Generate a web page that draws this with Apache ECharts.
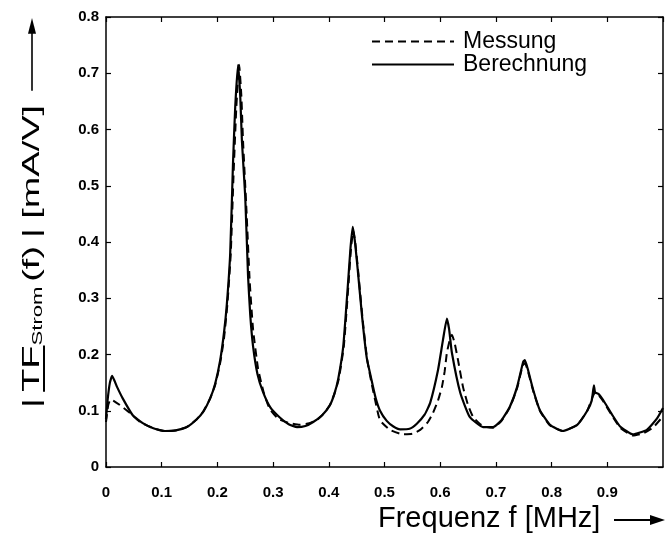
<!DOCTYPE html>
<html><head><meta charset="utf-8">
<script src="https://cdn.jsdelivr.net/npm/echarts@6/dist/echarts.min.js"></script>
<style>html,body{margin:0;padding:0;background:#fff}#c{width:665px;height:535px}</style>
</head><body><div id="c"></div>
<script>
// Data (frequency in MHz, |TF| in mA/V)
const xTicks = ['0','0.1','0.2','0.3','0.4','0.5','0.6','0.7','0.8','0.9'];
const yTicks = ['0','0.1','0.2','0.3','0.4','0.5','0.6','0.7','0.8'];
const seriesNames = ['Messung', 'Berechnung'];
const berechnung = [
 [0,0.085],[0.003,0.12],[0.007,0.15],[0.011,0.162],[0.02,0.142],[0.03,0.122],[0.048,0.092],[0.066,0.078],[0.085,0.069],[0.106,0.064],[0.125,0.065],[0.145,0.071],[0.163,0.085],[0.175,0.099],[0.187,0.122],[0.196,0.148],[0.205,0.19],[0.212,0.24],[0.217,0.29],[0.223,0.38],[0.228,0.54],[0.232,0.64],[0.237,0.715],[0.241,0.66],[0.244,0.58],[0.25,0.48],[0.255,0.34],[0.259,0.27],[0.264,0.215],[0.272,0.165],[0.282,0.133],[0.295,0.106],[0.312,0.088],[0.328,0.076],[0.343,0.071],[0.358,0.073],[0.372,0.08],[0.388,0.092],[0.402,0.11],[0.41,0.13],[0.417,0.157],[0.426,0.215],[0.434,0.32],[0.439,0.39],[0.443,0.427],[0.447,0.4],[0.452,0.35],[0.46,0.265],[0.468,0.195],[0.476,0.158],[0.484,0.123],[0.492,0.1],[0.504,0.082],[0.516,0.072],[0.528,0.067],[0.545,0.068],[0.558,0.077],[0.572,0.093],[0.582,0.114],[0.596,0.172],[0.605,0.226],[0.612,0.264],[0.616,0.245],[0.621,0.203],[0.636,0.132],[0.653,0.089],[0.677,0.071],[0.695,0.071],[0.71,0.083],[0.725,0.107],[0.738,0.142],[0.749,0.187],[0.752,0.19],[0.757,0.175],[0.767,0.137],[0.779,0.101],[0.797,0.075],[0.82,0.064],[0.846,0.075],[0.864,0.1],[0.872,0.118],[0.876,0.145],[0.878,0.133],[0.884,0.13],[0.892,0.12],[0.908,0.094],[0.923,0.072],[0.946,0.058],[0.971,0.066],[0.989,0.086],[1.0,0.105]
];
const messung = [
 [0,0.08],[0.004,0.11],[0.008,0.12],[0.013,0.118],[0.025,0.11],[0.043,0.096],[0.061,0.08],[0.085,0.069],[0.106,0.064],[0.125,0.065],[0.145,0.071],[0.163,0.085],[0.175,0.099],[0.187,0.122],[0.196,0.146],[0.205,0.185],[0.212,0.23],[0.218,0.29],[0.224,0.38],[0.229,0.52],[0.234,0.64],[0.239,0.715],[0.243,0.66],[0.246,0.58],[0.252,0.46],[0.258,0.33],[0.264,0.245],[0.273,0.175],[0.283,0.133],[0.294,0.103],[0.31,0.085],[0.33,0.078],[0.348,0.075],[0.365,0.078],[0.379,0.084],[0.39,0.094],[0.402,0.11],[0.41,0.13],[0.418,0.157],[0.427,0.215],[0.435,0.32],[0.44,0.39],[0.444,0.42],[0.448,0.395],[0.453,0.345],[0.461,0.26],[0.469,0.19],[0.477,0.148],[0.484,0.115],[0.492,0.083],[0.51,0.066],[0.533,0.058],[0.55,0.059],[0.564,0.066],[0.578,0.08],[0.587,0.096],[0.596,0.118],[0.603,0.142],[0.608,0.17],[0.612,0.203],[0.617,0.225],[0.621,0.235],[0.626,0.22],[0.632,0.19],[0.641,0.142],[0.65,0.11],[0.659,0.089],[0.672,0.076],[0.684,0.071],[0.695,0.07],[0.71,0.082],[0.725,0.106],[0.738,0.14],[0.748,0.18],[0.752,0.185],[0.757,0.172],[0.767,0.135],[0.779,0.1],[0.797,0.074],[0.82,0.064],[0.846,0.075],[0.864,0.1],[0.875,0.128],[0.879,0.132],[0.884,0.128],[0.892,0.118],[0.908,0.092],[0.923,0.07],[0.946,0.056],[0.965,0.06],[0.982,0.07],[1.0,0.09]
];

const FONT = '"Liberation Sans", Arial, Helvetica, sans-serif';
const chart = echarts.init(document.getElementById('c'), null, {renderer:'canvas'});

// measure helper for composing the y-axis title
const ctx = document.createElement('canvas').getContext('2d');
function tw(s, size, weight){ ctx.font = (weight||'normal') + ' ' + size + 'px ' + FONT; return ctx.measureText(s).width; }

const YS = 24, SS = 14;
const parts = [];
let pos = 0;
function addText(s, size, dy){ parts.push({type:'text', x:pos, y:dy||0, style:{text:s, font:'normal '+size+'px '+FONT, fill:'#000', textVerticalAlign:'middle', textAlign:'left'}}); const w = tw(s,size); const start = pos; pos += w; return [start, pos]; }
addText('|', YS); pos += 4;
const tf = addText('TF', YS);
addText('Strom', SS, 6); pos += 3;
addText('(f)', YS); pos += 5;
addText('|', YS); pos += 6;
addText('[mA/V]', YS); pos += 9;
parts.push({type:'line', shape:{x1:tf[0], y1:12, x2:tf[1], y2:12}, style:{stroke:'#000', lineWidth:2}});
parts.push({type:'line', shape:{x1:pos, y1:0, x2:pos+38, y2:0}, style:{stroke:'#000', lineWidth:1.6}});
parts.push({type:'polygon', shape:{points:[[pos+36,-4],[pos+46,0],[pos+36,4]]}, style:{fill:'#000'}});
const Y_STRETCH = 1.58;

const axisCommon = {
  type:'value', min:0,
  axisLine:{show:true, onZero:false, lineStyle:{color:'#000', width:1.5}},
  axisTick:{show:true, inside:true, length:5, lineStyle:{color:'#000', width:1.2}},
  splitLine:{show:false}
};

chart.setOption({
  animation:false,
  backgroundColor:'#fff',
  grid:{left:106, right:2, top:17, bottom:68},
  legend:{
    data:seriesNames, orient:'vertical', left:366, top:25, itemWidth:82, itemHeight:12, itemGap:0,
    itemStyle:{color:'transparent', borderWidth:0, opacity:0},
    textStyle:{fontFamily:FONT, fontSize:23, color:'#000', lineHeight:22, padding:[0,0,0,4]}
  },
  xAxis:[
    Object.assign({}, axisCommon, {max:1, interval:0.1, position:'bottom',
      axisLabel:{show:true, margin:18, fontFamily:FONT, fontWeight:'bold', fontSize:15, color:'#000', showMaxLabel:false,
        formatter:(v)=>{ const i=Math.round(v*10); return xTicks[i]!==undefined?xTicks[i]:''; }}}),
    Object.assign({}, axisCommon, {max:1, interval:0.1, position:'top', axisLabel:{show:false}})
  ],
  yAxis:[
    Object.assign({}, axisCommon, {max:0.8, interval:0.1, position:'left',
      axisLabel:{show:true, margin:7, fontFamily:FONT, fontWeight:'bold', fontSize:15, color:'#000',
        formatter:(v)=>{ const i=Math.round(v*10); return yTicks[i]!==undefined?yTicks[i]:''; }}}),
    Object.assign({}, axisCommon, {max:0.8, interval:0.1, position:'right', axisLabel:{show:false}})
  ],
  series:[
    {name:seriesNames[0], type:'line', data:messung, symbol:'none', showSymbol:false, smooth:0.15,
      lineStyle:{color:'#000', width:2, type:[8,5]}, itemStyle:{color:'#000'}},
    {name:seriesNames[1], type:'line', data:berechnung, symbol:'none', showSymbol:false, smooth:0.15,
      lineStyle:{color:'#000', width:2.2, type:'solid'}, itemStyle:{color:'#000'}}
  ],
  graphic:[
    {type:'group', x:32, y:408, rotation:Math.PI/2, scaleX:Y_STRETCH, children:parts},
    {type:'text', x:378, y:519, style:{text:'Frequenz f [MHz]', font:'normal 29px '+FONT, fill:'#000', textVerticalAlign:'middle', textAlign:'left'}},
    {type:'line', shape:{x1:614, y1:520, x2:652, y2:520}, style:{stroke:'#000', lineWidth:2}},
    {type:'polygon', shape:{points:[[650,515],[665,520],[650,525]]}, style:{fill:'#000'}}
  ]
});
</script></body></html>
